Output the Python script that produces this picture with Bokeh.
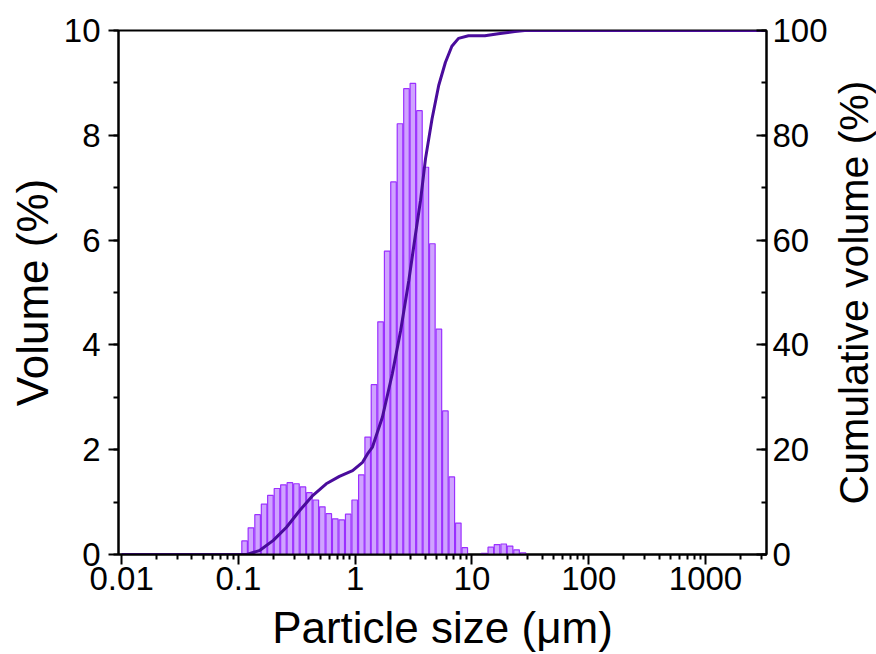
import math
from bokeh.plotting import figure
from bokeh.layouts import row
from bokeh.models import Range1d, LinearAxis, FixedTicker, SingleIntervalTicker, ColumnDataSource, Label
from bokeh.embed import file_html
from bokeh.resources import INLINE

# Particle size classes (µm) and volume (%) of the histogram bars
size_um = [0.113, 0.128, 0.146, 0.166, 0.188, 0.214, 0.243, 0.276, 0.314, 0.357,
           0.405, 0.46, 0.523, 0.594, 0.675, 0.767, 0.872, 0.991, 1.13, 1.28,
           1.45, 1.65, 1.88, 2.13, 2.42, 2.75, 3.12, 3.55, 4.03, 4.58,
           5.21, 5.92, 6.72, 7.64, 8.68, 9.86, 11.2, 12.7, 14.5, 16.4,
           18.7, 21.2, 24.1, 27.4]
volume_pct = [0.26, 0.51, 0.76, 0.96, 1.13, 1.26, 1.33, 1.37, 1.35, 1.29,
              1.18, 1.04, 0.91, 0.78, 0.68, 0.66, 0.77, 1.04, 1.52, 2.24,
              3.24, 4.44, 5.79, 7.11, 8.22, 8.89, 8.99, 8.47, 7.39, 5.93,
              4.30, 2.74, 1.48, 0.60, 0.13, 0.0, 0.0, 0.02, 0.14, 0.19,
              0.20, 0.16, 0.09, 0.03]

# Cumulative volume curve (%)
cum_size_um = [0.01, 0.118, 0.153, 0.199, 0.258, 0.335, 0.435, 0.565, 0.733, 0.95,
               1.156, 1.275, 1.406, 1.71, 2.08, 2.45, 2.88, 3.29, 3.63, 4.0,
               4.55, 5.19, 5.92, 6.73, 7.67, 9.33, 12.9, 16.8, 23.3, 28.3, 3500]
cum_pct = [0, 0, 0.8, 2.7, 5.2, 8.4, 11.3, 13.5, 14.9, 16.0,
           17.6, 19.2, 20.5, 26.2, 34.5, 42.7, 52.3, 61.2, 67.6, 75.5,
           83.1, 89.5, 93.9, 97.0, 98.5, 99.0, 99.0, 99.4, 99.8, 100, 100]

x_major_ticks = [0.01, 0.1, 1, 10, 100, 1000]
x_tick_labels = ["0.01", "0.1", "1", "10", "100", "1000"]

FONT = "Liberation Sans"
H = 654
W_MAIN, W_TITLE = 830, 46
X0, X1 = 0.0094, 3330
TOP, BOTTOM = 30, 100

p = figure(width=W_MAIN, height=H, x_axis_type="log",
           x_range=Range1d(X0, X1), y_range=Range1d(0, 10),
           output_backend="svg", toolbar_location=None,
           min_border_left=118, min_border_right=60,
           min_border_top=TOP, min_border_bottom=BOTTOM)
p.grid.visible = False
p.outline_line_color = "black"
p.outline_line_width = 2
p.background_fill_color = "white"
p.border_fill_color = "white"

# bars: log-symmetric around each size class
half = 10 ** (0.5 * 0.0554 * 0.86)
bx = [s for s, v in zip(size_um, volume_pct) if v > 0]
bv = [v for v in volume_pct if v > 0]
src = ColumnDataSource(dict(left=[s / half for s in bx], right=[s * half for s in bx],
                            top=bv, bottom=[0] * len(bv)))
p.quad(left="left", right="right", top="top", bottom="bottom", source=src,
       fill_color="#CFA3FF", line_color="#9B30FF", line_width=1.2)

p.extra_y_ranges = {"cum": Range1d(0, 100)}
p.line(cum_size_um, cum_pct, y_range_name="cum", line_color="#4A0C9C", line_width=3)

# x axis
xa = p.xaxis[0]
minor = [k * 10 ** d for d in range(-2, 4) for k in range(2, 10)]
xa.ticker = FixedTicker(ticks=x_major_ticks, minor_ticks=minor)
xa.major_label_overrides = {t: l for t, l in zip(x_major_ticks, x_tick_labels)}
xa.axis_label = "Particle size (μm)"

# left y axis
ya = p.yaxis[0]
ya.ticker = SingleIntervalTicker(interval=2, num_minor_ticks=2)
ya.axis_label = "Volume (%)"

# right y axis (its title is drawn in the narrow panel next to it)
ra = LinearAxis(y_range_name="cum",
                ticker=SingleIntervalTicker(interval=20, num_minor_ticks=2))
p.add_layout(ra, "right")

for ax in (xa, ya, ra):
    ax.axis_line_width = 2
    ax.axis_line_color = "black"
    ax.major_tick_line_width = 2
    ax.minor_tick_line_width = 2
    ax.major_tick_line_color = "black"
    ax.minor_tick_line_color = "black"
    ax.major_tick_out = 10
    ax.major_tick_in = 0
    ax.minor_tick_out = 5
    ax.minor_tick_in = 0
    ax.major_label_text_font = FONT
    ax.major_label_text_font_size = "33px"
    ax.major_label_text_color = "black"
    ax.axis_label_text_font = FONT
    ax.axis_label_text_font_size = "44px"
    ax.axis_label_text_font_style = "normal"
    ax.axis_label_text_color = "black"

ra.major_tick_out = 0
ra.major_tick_in = 10
ra.minor_tick_out = 0
ra.minor_tick_in = 5

xa.major_label_standoff = 2
xa.axis_label_standoff = 10
ya.major_label_standoff = 8
ya.axis_label_standoff = 4
ra.major_label_standoff = 6

# narrow panel holding the right-axis title, reading bottom-to-top
p2 = figure(width=W_TITLE, height=H, x_range=Range1d(0, 1), y_range=Range1d(0, 10),
            output_backend="svg", toolbar_location=None,
            x_axis_location=None, y_axis_location=None,
            min_border_left=0, min_border_right=0,
            min_border_top=TOP, min_border_bottom=BOTTOM)
p2.grid.visible = False
p2.outline_line_color = None
p2.background_fill_color = "white"
p2.border_fill_color = "white"
p2.add_layout(Label(x=0.5, y=5, text="Cumulative volume (%)", angle=math.pi / 2,
                    text_align="center", text_baseline="middle",
                    text_font=FONT, text_font_size="41px", text_color="black"))

layout = row(p, p2, spacing=0)
open("out.html", "w").write(file_html(layout, INLINE))
